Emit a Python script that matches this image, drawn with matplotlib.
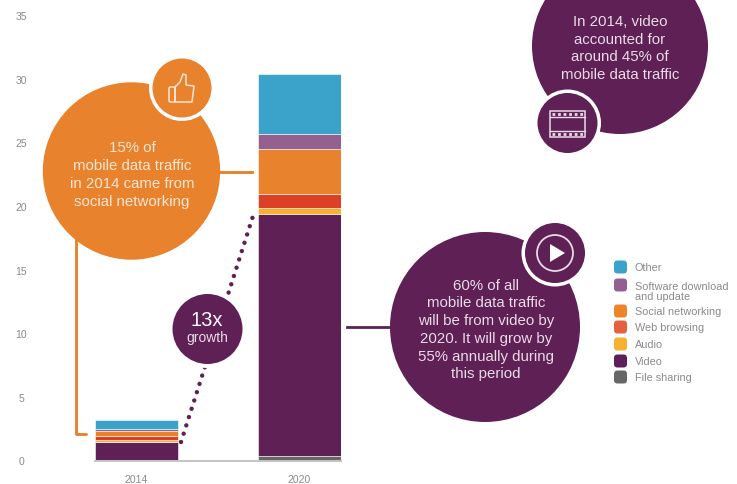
import matplotlib
matplotlib.use('Agg')
import matplotlib.pyplot as plt
from matplotlib.patches import Circle, Polygon, FancyBboxPatch, Rectangle

plt.rcParams['font.family'] = ['Liberation Sans', 'DejaVu Sans']

years = ['2014', '2020']
y_ticks = [0, 5, 10, 15, 20, 25, 30, 35]

# stacked from the bottom up
segments = ['File sharing', 'Video', 'Audio', 'Web browsing', 'Social networking', 'Software download\nand update', 'Other']
values_2014 = [0.05, 1.4, 0.15, 0.3, 0.45, 0.15, 0.7]
values_2020 = [0.35, 19.0, 0.45, 1.15, 3.55, 1.15, 4.75]
colors = ['#666666', '#5f2055', '#f6b22f', '#dc4128', '#e8822c', '#93608f', '#3ba3c9']
legend_colors = ['#666666', '#5f1f5c', '#f6b22f', '#e5603f', '#ee8429', '#93608f', '#3ba3c9']

PURPLE = '#5f2055'
ORANGE = '#e8822c'
GREY = '#8a8a8a'
ORANGE_TEXT = '#fbe6d5'
PURPLE_TEXT = '#e8dae6'

fig = plt.figure(figsize=(7.37, 4.85), dpi=100)

# bar axes, placed so the scale lines up with the reference
ax = fig.add_axes([95 / 737, (485 - 461.5) / 485, 246 / 737, 445.5 / 485])
bottoms = [0, 0]
for name, v14, v20, c in zip(segments, values_2014, values_2020, colors):
    ax.bar([0, 1], [v14, v20], width=0.509, bottom=bottoms, color=c, edgecolor='white', linewidth=0.4)
    bottoms = [bottoms[0] + v14, bottoms[1] + v20]

ax.set_xlim(-0.2546, 1.2546)
ax.set_ylim(0, 35)
ax.set_xticks([0, 1])
ax.set_xticklabels(years, fontsize=7.5, color=GREY)
ax.set_yticks(y_ticks)
ax.set_yticklabels([str(t) for t in y_ticks], fontsize=7.5, color=GREY, ha='center')
ax.tick_params(axis='x', length=0, pad=9.5)
ax.tick_params(axis='y', length=0, pad=53)
for side in ['top', 'right', 'left']:
    ax.spines[side].set_visible(False)
ax.spines['bottom'].set_color('#c4c4c4')
ax.spines['bottom'].set_linewidth(1.4)

# overlay in pixel coordinates for the callouts
ov = fig.add_axes([0, 0, 1, 1])
ov.set_xlim(0, 737)
ov.set_ylim(485, 0)
ov.axis('off')
ov.patch.set_alpha(0)


def badge(cx, cy, r, color):
    ov.add_patch(Circle((cx, cy), r + 3.5, fc='white', ec='none', zorder=3))
    ov.add_patch(Circle((cx, cy), r, fc=color, ec='none', zorder=4))


def callout_text(x, y, s, color):
    ov.text(x, y, s, color=color, fontsize=10.8, ha='center', va='center', linespacing=1.34, zorder=5)


# connectors
ov.plot([220, 252], [172.5, 172.5], color=ORANGE, lw=2.1, zorder=1)
ov.plot([76, 76, 86], [238, 435, 435], color=ORANGE, lw=2.1, zorder=1, solid_joinstyle='round', solid_capstyle='round')
ov.plot([347, 392], [327.5, 327.5], color=PURPLE, lw=2, zorder=1)
ov.plot([181, 253], [443, 217], color=PURPLE, lw=3.2, zorder=1,
        linestyle=(0, (0.01, 1.95)), dash_capstyle='round')

# orange callout
ov.add_patch(Circle((131.5, 172), 88.7, fc=ORANGE, ec='none', zorder=2))
badge(182, 89, 29.5, ORANGE)
callout_text(132, 175, '15% of\nmobile data traffic\nin 2014 came from\nsocial networking', ORANGE_TEXT)
ov.add_patch(FancyBboxPatch((169, 88), 6, 15, boxstyle='round,pad=0,rounding_size=1.5', fc='none', ec=ORANGE_TEXT, lw=1.1, zorder=5))
ov.add_patch(Polygon([(175, 88), (180, 83), (183, 75), (186, 76), (186, 86), (194, 87), (192, 103), (175, 103)],
                     closed=True, fc='none', ec=ORANGE_TEXT, lw=1.1, joinstyle='round', zorder=5))

# top purple callout
ov.add_patch(Circle((620, 47), 88, fc=PURPLE, ec='none', zorder=2))
badge(567.5, 124, 30, PURPLE)
callout_text(620, 48.5, 'In 2014, video\naccounted for\naround 45% of\nmobile data traffic', PURPLE_TEXT)
ov.add_patch(Rectangle((550, 112), 35, 26, fc='none', ec=PURPLE_TEXT, lw=1.1, zorder=5))
ov.plot([550, 585], [118, 118], color=PURPLE_TEXT, lw=1, zorder=5)
ov.plot([550, 585], [132, 132], color=PURPLE_TEXT, lw=1, zorder=5)
ov.plot([552, 584], [115, 115], color=PURPLE_TEXT, lw=2, linestyle=(0, (1, 1)), zorder=5)
ov.plot([552, 584], [135, 135], color=PURPLE_TEXT, lw=2, linestyle=(0, (1, 1)), zorder=5)

# lower purple callout
ov.add_patch(Circle((485, 328), 95, fc=PURPLE, ec='none', zorder=2))
badge(555, 254, 30, PURPLE)
callout_text(486, 330, '60% of all\nmobile data traffic\nwill be from video by\n2020. It will grow by\n55% annually during\nthis period', PURPLE_TEXT)
ov.add_patch(Circle((555, 254), 18, fc='none', ec=PURPLE_TEXT, lw=1.3, zorder=5))
ov.add_patch(Polygon([(550, 245), (550, 263), (565, 254)], closed=True, fc='white', ec='none', zorder=5))

# growth badge
ov.add_patch(Circle((207.5, 330), 39, fc='white', ec='none', zorder=2))
ov.add_patch(Circle((207.5, 330), 35, fc=PURPLE, ec='none', zorder=3))
ov.text(207, 321, '13x', color='white', fontsize=14.5, ha='center', va='center', zorder=5)
ov.text(207, 338, 'growth', color=PURPLE_TEXT, fontsize=10, ha='center', va='center', zorder=5)

# legend, top entry first
legend_y = [378, 362, 345, 328, 312, 286, 268]
text_y = [378, 362, 345, 328, 312, 292, 268]
for name, c, y, ty in zip(segments, legend_colors, legend_y, text_y):
    ov.add_patch(FancyBboxPatch((614, y - 6.5), 13, 13, boxstyle='round,pad=0,rounding_size=3.5', fc=c, ec='none', zorder=5))
    ov.text(635, ty, name, color=GREY, fontsize=7.8, ha='left', va='center', linespacing=1.05, zorder=5)

fig.savefig('out.png', dpi=100)
